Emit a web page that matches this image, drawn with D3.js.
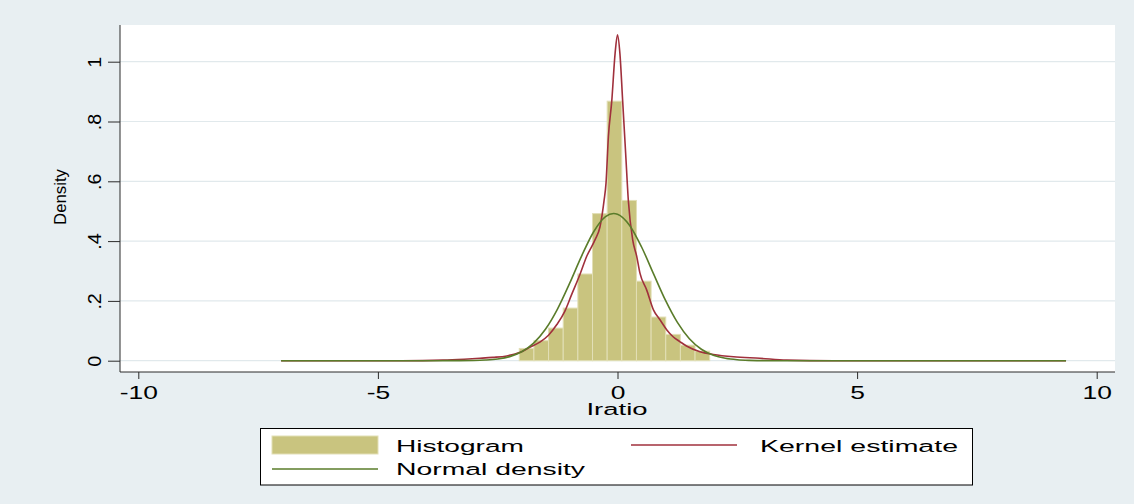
<!DOCTYPE html>
<html><head><meta charset="utf-8">
<script src="https://cdn.jsdelivr.net/npm/d3@7"></script>
<style>html,body{margin:0;padding:0;background:#e8eff2;} svg{display:block;font-family:"Liberation Sans",Arial,sans-serif;}</style>
</head><body><svg id="c" width="1134" height="504"></svg>
<script>
// ---- data ----
const xTicks = [-10, -5, 0, 5, 10];
const yTicks = [0, 0.2, 0.4, 0.6, 0.8, 1];
const yTickLabels = ["0", ".2", ".4", ".6", ".8", "1"];
const binFirstEdge = -2.05;
const binWidth = 0.3057;
const binHeights = [0.041, 0.067, 0.109, 0.176, 0.29, 0.492, 0.868, 0.536, 0.266, 0.146, 0.088, 0.052, 0.032];
const kernelX = [-7.02,-4.5,-3.64,-3.2,-2.87,-2.6,-2.31,-2.03,-1.83,-1.62,-1.44,-1.27,-1.10,-0.96,-0.78,-0.64,-0.47,-0.365,-0.28,-0.24,-0.19,-0.12,-0.05,0.0,0.05,0.108,0.17,0.226,0.317,0.40,0.47,0.61,0.75,0.89,1.03,1.16,1.30,1.44,1.72,2.0,2.42,2.97,3.53,4.5,9.36];
const kernelY = [0,0,0.002,0.005,0.008,0.011,0.016,0.028,0.045,0.062,0.085,0.12,0.165,0.22,0.29,0.35,0.404,0.448,0.536,0.593,0.75,0.868,1.028,1.09,1.028,0.868,0.694,0.536,0.404,0.35,0.292,0.236,0.17,0.136,0.103,0.08,0.064,0.049,0.030,0.021,0.013,0.008,0.002,0,0];
const normalX = [-7.02,-4,-3.5,-3,-2.75,-2.5,-2.25,-2,-1.75,-1.5,-1.25,-1,-0.75,-0.5,-0.25,-0.08,0,0.25,0.5,0.75,1,1.25,1.5,1.75,2,2.25,2.5,2.75,3,3.5,4,9.36];
const normalY = [0,0,0.0001,0.0007,0.0022,0.0057,0.0136,0.0297,0.0588,0.1059,0.1735,0.2584,0.3498,0.4305,0.4818,0.4925,0.4901,0.4533,0.3811,0.2914,0.2025,0.128,0.0735,0.0384,0.0182,0.0079,0.0031,0.0011,0.0004,0,0,0];
const legendLabels = ["Histogram", "Kernel estimate", "Normal density"];
const xTitle = "Iratio";
const yTitle = "Density";

// ---- styles ----
const BG = "#e8eff2", GRID = "#e1e9ec", AXIS = "#2a2a2a";
const BAR = "#c9c47f", BAR_STROKE = "#e2dfb6";
const RED = "#a0303c", GREEN = "#5a7c2a";

const W = 1134, H = 504;
const plot = {l: 120, r: 1115, t: 25, b: 372};
const svg = d3.select("#c");
svg.append("rect").attr("width", W).attr("height", H).attr("fill", BG);

const x = d3.scaleLinear().domain([-10, 10]).range([138.3, 1096.7]);
const y = d3.scaleLinear().domain([0, 1]).range([360.7, 61.7]);

svg.append("rect").attr("x", plot.l).attr("y", plot.t)
  .attr("width", plot.r - plot.l).attr("height", plot.b - plot.t).attr("fill", "#fff");

// gridlines
svg.append("g").selectAll("line").data(yTicks).join("line")
  .attr("x1", plot.l).attr("x2", plot.r)
  .attr("y1", d => y(d)).attr("y2", d => y(d))
  .attr("stroke", GRID).attr("stroke-width", 1.2);

// bars
const bins = binHeights.map((h, i) => ({x0: binFirstEdge + i * binWidth, x1: binFirstEdge + (i + 1) * binWidth, h}));
svg.append("g").selectAll("rect").data(bins).join("rect")
  .attr("x", d => x(d.x0)).attr("width", d => x(d.x1) - x(d.x0))
  .attr("y", d => y(d.h)).attr("height", d => y(0) - y(d.h))
  .attr("fill", BAR).attr("stroke", BAR_STROKE).attr("stroke-width", 1);

// curves
const line = d3.line().x(d => x(d[0])).y(d => y(d[1])).curve(d3.curveMonotoneX);
svg.append("path").datum(kernelX.map((v, i) => [v, kernelY[i]]))
  .attr("d", line).attr("fill", "none").attr("stroke", RED).attr("stroke-width", 1.6);
svg.append("path").datum(normalX.map((v, i) => [v, normalY[i]]))
  .attr("d", line).attr("fill", "none").attr("stroke", GREEN).attr("stroke-width", 1.6);

// x axis
const gx = svg.append("g").attr("transform", `translate(0,${plot.b})`)
  .call(d3.axisBottom(x).tickValues(xTicks).tickSize(7).tickPadding(8).tickFormat(d => String(d)));
gx.select(".domain").remove();
gx.selectAll(".tick line").attr("stroke", AXIS);
gx.selectAll(".tick text").attr("font-size", 17.6).attr("fill", "#000")
  .attr("font-family", '"Liberation Sans",Arial,sans-serif')
  .attr("transform", "scale(1.5,1)");
svg.append("line").attr("x1", plot.l).attr("x2", plot.r).attr("y1", plot.b).attr("y2", plot.b)
  .attr("stroke", AXIS).attr("stroke-width", 1);

// y axis
const gy = svg.append("g").attr("transform", `translate(${plot.l},0)`)
  .call(d3.axisLeft(y).tickValues(yTicks).tickSize(12).tickFormat((d, i) => yTickLabels[i]));
gy.select(".domain").remove();
gy.selectAll(".tick line").attr("stroke", AXIS);
gy.selectAll(".tick text").attr("font-size", 17.6).attr("fill", "#000")
  .attr("font-family", '"Liberation Sans",Arial,sans-serif')
  .attr("x", 0).attr("y", -19.3).attr("dy", 0)
  .attr("text-anchor", "middle").attr("transform", "rotate(-90) scale(1.12,1)");
svg.append("line").attr("x1", plot.l).attr("x2", plot.l).attr("y1", plot.t).attr("y2", plot.b)
  .attr("stroke", AXIS).attr("stroke-width", 1);

// titles
svg.append("text").attr("transform", "translate(66,197) rotate(-90)")
  .attr("text-anchor", "middle").attr("font-size", 16).attr("fill", "#000")
  .attr("textLength", 56).attr("lengthAdjust", "spacingAndGlyphs").text(yTitle);
svg.append("text").attr("x", 617).attr("y", 415)
  .attr("text-anchor", "middle").attr("font-size", 17.2).attr("fill", "#000")
  .attr("textLength", 61).attr("lengthAdjust", "spacingAndGlyphs").text(xTitle);

// legend
const lg = svg.append("g");
lg.append("rect").attr("x", 260.5).attr("y", 428.5).attr("width", 712).attr("height", 56.5)
  .attr("fill", "#fff").attr("stroke", "#000").attr("stroke-width", 1);
lg.append("rect").attr("x", 272).attr("y", 436).attr("width", 106).attr("height", 18)
  .attr("fill", BAR).attr("stroke", BAR_STROKE).attr("stroke-width", 1);
lg.append("line").attr("x1", 631).attr("x2", 737).attr("y1", 445).attr("y2", 445)
  .attr("stroke", RED).attr("stroke-width", 1.6);
lg.append("line").attr("x1", 272).attr("x2", 378).attr("y1", 469).attr("y2", 469)
  .attr("stroke", GREEN).attr("stroke-width", 1.6);
const lt = [
  {t: legendLabels[0], x: 396, y: 451.5, w: 128},
  {t: legendLabels[1], x: 760, y: 451.5, w: 198},
  {t: legendLabels[2], x: 396, y: 475, w: 189}
];
lg.selectAll("text.l").data(lt).join("text").attr("class", "l")
  .attr("x", d => d.x).attr("y", d => d.y).attr("font-size", 16.3).attr("fill", "#000")
  .attr("textLength", d => d.w).attr("lengthAdjust", "spacingAndGlyphs").text(d => d.t);
</script></body></html>
